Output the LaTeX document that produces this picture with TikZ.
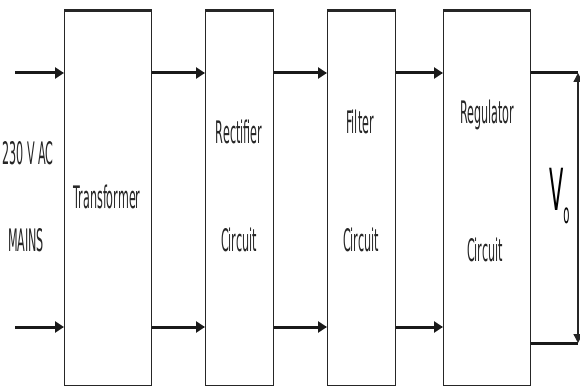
\documentclass[tikz,border=0pt]{standalone}
\usepackage{fontspec}
\setmainfont[FakeStretch=0.36]{DejaVu Sans}
\usetikzlibrary{arrows.meta}
\begin{document}
\begin{tikzpicture}[x=1pt,y=-1pt,
  blk/.style={draw=black!85, line width=1.2pt, minimum height=374pt, inner sep=0pt, anchor=north west},
  toprule/.style={line width=3pt, black!85},
  conn/.style={line width=3pt, black!90, -{Triangle[length=9pt,width=11pt]}},
  wire/.style={line width=3pt, black!90},
  lbl/.style={font=\fontsize{31}{31}\selectfont, inner sep=0pt, text=black!85},
]
\useasboundingbox (0,0) rectangle (580,387);
% boxes
\node[blk, minimum width=87pt] (tr) at (64,11) {};
\node[blk, minimum width=68pt] (rc) at (205,11) {};
\node[blk, minimum width=68pt] (fl) at (327,11) {};
\node[blk, minimum width=87pt] (rg) at (443,11) {};
\foreach \b in {tr,rc,fl,rg}{\draw[toprule] (\b.north west) -- (\b.north east);}
% input coordinates
\coordinate (i1) at (15,73);
\coordinate (i2) at (15,327);
\coordinate (o1) at (578,73);
\coordinate (o2) at (578,343);
% connectors
\draw[conn] (i1) -- (i1 -| tr.west);
\draw[conn] (i2) -- (i2 -| tr.west);
\draw[conn] (tr.east |- i1) -- (rc.west |- i1);
\draw[conn] (tr.east |- i2) -- (rc.west |- i2);
\draw[conn] (rc.east |- i1) -- (fl.west |- i1);
\draw[conn] (rc.east |- i2) -- (fl.west |- i2);
\draw[conn] (fl.east |- i1) -- (rg.west |- i1);
\draw[conn] (fl.east |- i2) -- (rg.west |- i2);
\draw[wire] (rg.east |- o1) -- (o1);
\draw[wire] (rg.east |- o2) -- (o2);
\draw[line width=1.4pt, black!85, {Triangle[length=9pt,width=9pt]}-{Triangle[length=9pt,width=9pt]}] (o1) -- (o2);
% labels
\node[lbl] (ac) at (28,153) {230 V AC};
\node[lbl] (mains) at (26,240) {MAINS};
\node[lbl] (ttr) at (107,197) {Transformer};
\node[lbl] (trc1) at (239,132) {Rectifier};
\node[lbl] (trc2) at (239,240) {Circuit};
\node[lbl] (tfl1) at (360,122) {Filter};
\node[lbl] (tfl2) at (361,240) {Circuit};
\node[lbl] (trg1) at (487,115) {Regulator};
\node[lbl] (trg2) at (485,250) {Circuit};
\node[inner sep=0pt, text=black, anchor=south west] (vo) at (549,224) {\fontsize{58}{58}\selectfont V\raisebox{-13pt}{\fontsize{28}{28}\selectfont o}};
\end{tikzpicture}
\end{document}
